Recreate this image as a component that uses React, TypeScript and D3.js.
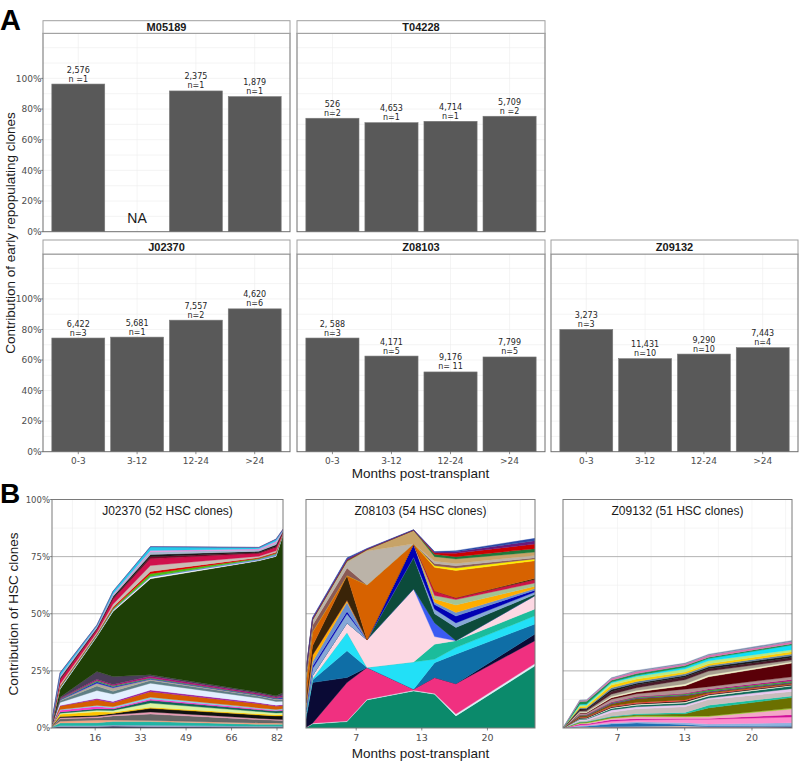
import React from "react";
import * as d3 from "d3";

// ---------------- Panel A data ----------------
const intervals = ["0-3", "3-12", "12-24", ">24"];
const yTicksA = [0, 0.2, 0.4, 0.6, 0.8, 1.0];
const yTickLabelsA = ["0%", "20%", "40%", "60%", "80%", "100%"];

const m05189Share = [0.963, null, 0.918, 0.881];
const m05189Count = ["2,576", "", "2,375", "1,879"];
const m05189N = ["n =1", "", "n=1", "n=1"];

const t04228Share = [0.74, 0.711, 0.72, 0.753];
const t04228Count = ["526", "4,653", "4,714", "5,709"];
const t04228N = ["n=2", "n=1", "n=1", "n =2"];

const j02370Share = [0.744, 0.75, 0.861, 0.935];
const j02370Count = ["6,422", "5,681", "7,557", "4,620"];
const j02370N = ["n=3", "n=1", "n=2", "n=6"];

const z08103Share = [0.744, 0.626, 0.522, 0.62];
const z08103Count = ["2, 588", "4,171", "9,176", "7,799"];
const z08103N = ["n=3", "n=5", "n= 11", "n=5"];

const z09132Share = [0.8, 0.609, 0.639, 0.681];
const z09132Count = ["3,273", "11,431", "9,290", "7,443"];
const z09132N = ["n=3", "n=10", "n=10", "n=4"];

// ---------------- Panel B data ----------------
const yTicksB = [0, 0.25, 0.5, 0.75, 1];
const yTickLabelsB = ["0%", "25%", "50%", "75%", "100%"];

// J02370 (days post-transplant)
const j02370Days = [25, 113, 519, 696, 1108, 2301, 2489, 2566];
const j02370TickDays = [500, 1000, 1500, 2000, 2500];
const j02370TickLabels = ["16", "33", "49", "66", "82"];
const j02370Colors = [
  "#0b0b3b", "#8fa3c8", "#1fb5a5", "#f4a582", "#666666", "#e89bb5", "#111111", "#ffc400",
  "#d8f5a2", "#0e6655", "#ff33cc", "#87ceeb", "#d55e00", "#9b1fa0", "#e3f0ff", "#5f7f86",
  "#b0a89a", "#2222cc", "#3aa046", "#b0107a", "#4b3d5a",
  "#1e3f06",
  "#ffffff", "#6a8fd8", "#4cbb17", "#dd0000", "#c9bcb5", "#d0104c", "#7a0a2a", "#1a1a1a",
  "#a9b8d0", "#f08ad8", "#25c9e8", "#5b2c83",
];
const j02370Layers = [
  [0.2, 0.5, 0.5, 0.8, 0.5, 0.3, 0.3, 0.3],
  [0.1, 0.5, 0.5, 0.5, 0.7, 0.5, 0.5, 0.5],
  [0.2, 1.2, 1.3, 1.5, 1.6, 0.8, 0.8, 0.8],
  [0.1, 0.8, 1.2, 0.7, 0.5, 0.6, 0.6, 0.5],
  [0.2, 1.0, 1.0, 1.8, 2.8, 1.5, 1.2, 1.2],
  [0.05, 0.5, 0.5, 0.5, 0.9, 0.5, 0.4, 0.4],
  [0.1, 0.5, 0.6, 0.6, 1.6, 1.5, 1.5, 1.6],
  [0.1, 1.0, 1.5, 0.5, 0.5, 0.5, 0.5, 0.6],
  [0.05, 0.5, 0.7, 0.8, 1.8, 1.0, 0.8, 0.8],
  [0.05, 0.5, 0.6, 0.6, 1.2, 0.8, 0.8, 1.0],
  [0.05, 0.8, 1.0, 0.5, 0.6, 0.4, 0.3, 0.3],
  [0.05, 0.3, 0.5, 0.5, 0.8, 0.4, 0.4, 0.4],
  [0.1, 1.5, 2.5, 1.8, 2.4, 1.8, 1.4, 1.3],
  [0.05, 0.3, 0.5, 0.5, 0.7, 0.5, 0.5, 0.5],
  [0.1, 1.3, 3.5, 3.3, 3.0, 2.0, 1.6, 1.5],
  [0.05, 0.7, 2.0, 1.2, 1.2, 0.8, 0.8, 0.8],
  [0.05, 0.3, 1.2, 1.5, 0.5, 0.3, 0.3, 0.3],
  [0.05, 0.3, 0.6, 0.4, 0.3, 0.2, 0.2, 0.5],
  [0.05, 0.2, 0.6, 0.5, 0.3, 0.2, 0.2, 0.3],
  [0.05, 0.3, 0.5, 0.5, 0.8, 0.5, 0.5, 0.6],
  [0.1, 0.5, 3.4, 3.5, 0.6, 0.6, 0.5, 1.2],
  [0.5, 3.5, 15.3, 28.5, 42, 57.5, 61, 69.2],
  [0.05, 0.3, 0.3, 0.4, 0.6, 0.2, 0.2, 0.1],
  [0.05, 0.4, 0.4, 0.5, 0.4, 0.6, 0.8, 0.3],
  [0.05, 0.3, 0.3, 0.5, 1.2, 0.3, 0.4, 0.1],
  [0.05, 0.4, 0.3, 0.6, 1.0, 0.3, 0.4, 0.1],
  [0.1, 0.8, 0.6, 1.2, 2.6, 0.6, 0.7, 0.2],
  [0.2, 1.8, 1.2, 2.0, 3.0, 1.2, 1.4, 0.4],
  [0.05, 0.4, 0.3, 0.6, 0.8, 0.3, 0.4, 0.1],
  [0.05, 0.5, 0.4, 0.8, 1.0, 0.6, 0.8, 0.3],
  [0.1, 0.6, 0.4, 0.6, 1.2, 0.6, 0.9, 0.2],
  [0.05, 0.3, 0.2, 0.4, 0.6, 0.5, 0.6, 0.2],
  [0.2, 1.2, 0.6, 1.2, 1.6, 0.6, 0.9, 0.2],
  [0.05, 0.2, 0.1, 0.1, 0.1, 0.1, 0.1, 0.3],
];

// Z08103
const z08103Days = [47, 67, 172, 233, 375, 439, 504, 745];
const z08103TickDays = [200, 400, 600];
const z08103TickLabels = ["7", "13", "20"];
const z08103Colors = [
  "#0b8a6b", "#dcf0f7", "#f03080", "#0a0a35", "#0f6ea6", "#22e0f7", "#1bbc9b", "#fcd8e3",
  "#3b5bf2", "#0c4b3b", "#86a8d6", "#0000b4", "#6b8fcf", "#ffad00", "#a3c495", "#cc1446",
  "#3a2408", "#d76200", "#ffee00", "#8a5a55", "#bbb3a8", "#c7a368", "#1e7a3a", "#cc0000",
  "#6a1a7a", "#2a4aa8",
];
const z08103Layers = [
  [0.2, 1.8, 2.8, 12.3, 16.2, 14.8, 5.3, 27.2],
  [0.1, 0.3, 0.3, 0.3, 0.3, 0.3, 0.8, 1.0],
  [0, 0, 16.8, 13.9, 0.5, 7.0, 13.3, 10.0],
  [3.7, 17.8, 2.2, 0, 0, 0, 0, 2.9],
  [1, 1.1, 11.7, 0, 0, 6.5, 12.9, 4.4],
  [1, 0.5, 8, 0, 11.9, 1.5, 2.9, 3.6],
  [0, 0, 0, 0, 0, 6.6, 3.0, 3.0],
  [1, 1.5, 4.2, 12.1, 31.9, 3.3, 0, 5.8],
  [0, 0, 0, 0, 0, 6, 0, 0],
  [0, 0, 0, 0, 13.9, 4, 5.8, 0.6],
  [1, 3, 4, 0, 0, 2, 2, 1],
  [0.5, 1, 1, 0, 5.9, 2, 3, 0.8],
  [0.5, 2, 4, 0, 0, 1, 1.5, 0.7],
  [2, 3, 1, 0, 0, 1.5, 3.3, 1],
  [0, 0, 0, 0, 0, 1.5, 2.4, 1.5],
  [0, 0, 0, 0, 0, 2, 0.8, 1.5],
  [2, 4, 10.7, 0, 0, 0, 0, 0.5],
  [7, 6, 0, 24, 0, 10.3, 11.9, 7.7],
  [0, 0, 0, 0, 0, 0.7, 1.1, 0.8],
  [2, 3, 3.3, 0, 0, 1, 1, 0.5],
  [2, 2, 2.5, 14.9, 0, 1, 1, 1],
  [0.3, 0.3, 0.5, 0.5, 5.9, 2, 2, 1.5],
  [0.2, 0.2, 0.3, 0.1, 0, 1, 1, 1.5],
  [0.1, 0.1, 0.2, 0.1, 0.1, 0.6, 1.5, 2],
  [0.2, 0.5, 0.5, 0.2, 0.1, 0.3, 0.6, 1.5],
  [0.2, 0.3, 0.5, 0.2, 0.1, 0.3, 0.5, 1],
];

// Z09132
const z09132Days = [38, 88, 108, 182, 257, 401, 471, 719];
const z09132TickDays = [200, 400, 600];
const z09132TickLabels = ["7", "13", "20"];
const z09132Colors = [
  "#1a1a6e", "#f5c6a5", "#1f6fb4", "#8fb3e0", "#ff8ccc", "#d0109a", "#f4a6c8", "#9acd32",
  "#6b7000", "#18c0a0", "#c8bcbc", "#e8c8f0", "#0e6a5a", "#f8f8e0", "#111111", "#ff4040",
  "#7a5a00", "#5a1a9a", "#33aa33", "#b01080", "#b09090", "#5a0008", "#f0f0c8", "#a8a090",
  "#4a1a2a", "#1a1a1a", "#5f7fa0", "#ffcc00", "#b8e986", "#10e0f8", "#1e8f4e", "#e070b0",
  "#8090b0",
];
const z09132Layers = [
  [0, 0.2, 0.2, 0.3, 0.3, 0.3, 0.3, 0.4],
  [0, 0.2, 0.2, 0.3, 0.4, 0.6, 0.3, 0.3],
  [0, 0.3, 0.4, 1.2, 1.5, 0.6, 0.3, 0.4],
  [0, 0.3, 0.3, 0.4, 0.5, 0.8, 0.8, 1.2],
  [0, 0.3, 0.3, 0.8, 0.8, 1.5, 2.1, 2.5],
  [0, 0.4, 0.4, 0.6, 0.6, 0.4, 0.4, 1.0],
  [0, 0.3, 0.3, 0.6, 0.8, 0.6, 0.8, 2.5],
  [0, 0.3, 0.3, 0.3, 0.5, 0.4, 0.3, 0.4],
  [0, 0.2, 0.2, 0.3, 0.4, 1.0, 3.5, 4.6],
  [0, 0.2, 0.2, 0.3, 0.4, 0.6, 1.2, 0.7],
  [0, 0.5, 0.5, 1.8, 2.2, 2.5, 2.5, 2.0],
  [0, 0.5, 0.5, 1.0, 0.9, 0.9, 0.6, 1.2],
  [0, 0.3, 0.3, 0.6, 0.7, 0.7, 0.8, 1.2],
  [0, 0.2, 0.2, 0.4, 0.4, 0.5, 0.5, 0.3],
  [0, 0.3, 0.3, 0.3, 0.3, 0.4, 0.4, 0.3],
  [0, 0.2, 0.2, 0.4, 0.5, 0.5, 0.4, 0.3],
  [0, 0.5, 0.5, 0.9, 1.6, 1.8, 0.5, 0.4],
  [0, 0.2, 0.2, 0.3, 0.3, 0.3, 0.3, 0.3],
  [0, 0.2, 0.2, 0.3, 0.4, 0.5, 0.6, 0.6],
  [0, 0.2, 0.2, 0.3, 0.3, 0.3, 0.5, 0.6],
  [0, 0.5, 0.5, 1.2, 1.2, 1.8, 1.0, 1.2],
  [0, 0.3, 0.3, 0.6, 0.8, 1.5, 4.3, 6.0],
  [0, 0.3, 0.3, 0.6, 0.6, 0.8, 0.8, 0.6],
  [0, 0.5, 0.5, 1.0, 1.2, 1.8, 1.7, 0.8],
  [0, 0.5, 0.5, 1.2, 1.3, 1.2, 1.0, 1.0],
  [0, 0.5, 0.5, 0.8, 0.7, 0.7, 0.8, 0.8],
  [0, 0.4, 0.4, 0.8, 0.8, 0.7, 0.6, 0.8],
  [0, 0.6, 0.6, 1.2, 1.0, 0.8, 0.8, 1.0],
  [0, 0.6, 0.6, 0.9, 1.1, 1.3, 1.3, 0.9],
  [0, 0.4, 0.4, 0.4, 0.5, 0.8, 1.0, 2.0],
  [0, 1.2, 1.2, 0.8, 0.8, 0.7, 0.6, 0.6],
  [0, 0.4, 0.4, 0.8, 0.9, 0.7, 0.8, 0.8],
  [0, 0.3, 0.3, 0.3, 0.5, 0.4, 0.5, 0.6],
];

// ---------------- Layout ----------------
const FONT_T = "'Liberation Sans', Arial, Helvetica, sans-serif";
const FONT_N = "'DejaVu Sans', Verdana, sans-serif";
const colX: [number, number][] = [[43, 290], [297, 545], [551, 798]];
const rowsA = [
  { stripTop: 20.7, top: 33.3, bottom: 231.7 },
  { stripTop: 240, top: 254, bottom: 451.7 },
];
const Y_MAX_A = 1.294;
const B_TOP = 499.5;
const B_BOTTOM = 728;

type BarProps = {
  col: number; row: number; title: string;
  values: (number | null)[]; counts: string[]; ns: string[];
  showX: boolean; showY: boolean;
};

function BarPanel({ col, row, title, values, counts, ns, showX, showY }: BarProps) {
  const [x0, x1] = colX[col];
  const { stripTop, top, bottom } = rowsA[row];
  const xs = d3.scaleBand<string>().domain(intervals).range([x0, x1]).paddingInner(0.1).paddingOuter(0.15);
  const ys = d3.scaleLinear().domain([0, Y_MAX_A]).range([bottom, top]);
  const grid = d3.range(1, 13).map((i) => i / 10);
  const bw = xs.bandwidth();
  return (
    <g>
      <rect x={x0} y={top} width={x1 - x0} height={bottom - top} fill="#ffffff" />
      {grid.map((v) => (
        <line key={"g" + v} x1={x0} x2={x1} y1={ys(v)} y2={ys(v)} stroke="#ececec" strokeWidth={0.6} />
      ))}
      {intervals.map((c) => (
        <line key={"v" + c} x1={(xs(c) as number) + bw / 2} x2={(xs(c) as number) + bw / 2} y1={top} y2={bottom} stroke="#ececec" strokeWidth={0.6} />
      ))}
      {values.map((v, i) => {
        const cx = (xs(intervals[i]) as number) + bw / 2;
        if (v == null) {
          return (
            <text key={"na" + i} x={cx} y={bottom - 9} textAnchor="middle" fontFamily={FONT_T} fontSize={14} fill="#1a1a1a">NA</text>
          );
        }
        return (
          <g key={"b" + i}>
            <rect x={xs(intervals[i])} y={ys(v)} width={bw} height={bottom - ys(v)} fill="#595959" stroke="#7a7a7a" strokeWidth={0.6} />
            <text x={cx} y={ys(v) - 11.5} textAnchor="middle" fontFamily={FONT_N} fontSize={8} fill="#262626">{counts[i]}</text>
            <text x={cx} y={ys(v) - 2.5} textAnchor="middle" fontFamily={FONT_N} fontSize={8} fill="#262626">{ns[i]}</text>
          </g>
        );
      })}
      <rect x={x0} y={top} width={x1 - x0} height={bottom - top} fill="none" stroke="#6e6e6e" strokeWidth={1} />
      <rect x={x0} y={stripTop} width={x1 - x0} height={top - stripTop} fill="#ffffff" stroke="#a0a0a0" strokeWidth={1} />
      <text x={(x0 + x1) / 2} y={(stripTop + top) / 2 + 4} textAnchor="middle" fontFamily={FONT_T} fontWeight="bold" fontSize={11} fill="#1a1a1a">{title}</text>
      {showY && yTicksA.map((t, i) => (
        <g key={"yt" + i}>
          <line x1={x0 - 2.5} x2={x0} y1={ys(t)} y2={ys(t)} stroke="#444" strokeWidth={0.6} />
          <text x={x0 - 1.5} y={ys(t) + 3.2} textAnchor="end" fontFamily={FONT_N} fontSize={9} fill="#4d4d4d">{yTickLabelsA[i]}</text>
        </g>
      ))}
      {showX && intervals.map((c) => (
        <g key={"xt" + c}>
          <line x1={(xs(c) as number) + bw / 2} x2={(xs(c) as number) + bw / 2} y1={bottom} y2={bottom + 2.5} stroke="#444" strokeWidth={0.6} />
          <text x={(xs(c) as number) + bw / 2} y={bottom + 12.5} textAnchor="middle" fontFamily={FONT_N} fontSize={9} fill="#4d4d4d">{c}</text>
        </g>
      ))}
    </g>
  );
}

type StackProps = {
  x0: number; x1: number; title: string; days: number[]; layers: number[][]; colors: string[];
  tickDays: number[]; tickLabels: string[]; showY: boolean; clipId: string;
};

function StackPanel({ x0, x1, title, days, layers, colors, tickDays, tickLabels, showY, clipId }: StackProps) {
  const xs = d3.scaleLinear().domain([days[0], days[days.length - 1]]).range([x0, x1]);
  const ys = d3.scaleLinear().domain([0, 1]).range([B_BOTTOM, B_TOP]);
  const keys = layers.map((_, k) => String(k));
  const table = days.map((_, i) => {
    const o: Record<string, number> = {};
    layers.forEach((l, k) => { o[String(k)] = l[i] / 100; });
    return o;
  });
  const series = d3.stack<Record<string, number>>().keys(keys)(table);
  const area = d3.area<any>()
    .x((_, i) => xs(days[i]))
    .y0((p) => ys(p[0]))
    .y1((p) => ys(p[1]));
  const major = [0.25, 0.5, 0.75];
  const minor = [0.125, 0.375, 0.625, 0.875];
  const step = tickDays[1] - tickDays[0];
  const vMinor = d3.range(tickDays[0] - step * 1.5, days[days.length - 1], step / 2).filter((d) => d > days[0]);
  return (
    <g>
      <defs>
        <clipPath id={clipId}>
          <rect x={x0} y={B_TOP} width={x1 - x0} height={B_BOTTOM - B_TOP} />
        </clipPath>
      </defs>
      <rect x={x0} y={B_TOP} width={x1 - x0} height={B_BOTTOM - B_TOP} fill="#ffffff" />
      {vMinor.map((d, i) => (
        <line key={"vm" + i} x1={xs(d)} x2={xs(d)} y1={B_TOP} y2={B_BOTTOM} stroke="#efefef" strokeWidth={0.6} />
      ))}
      {minor.map((v) => (
        <line key={"mi" + v} x1={x0} x2={x1} y1={ys(v)} y2={ys(v)} stroke="#efefef" strokeWidth={0.6} />
      ))}
      {major.map((v) => (
        <line key={"ma" + v} x1={x0} x2={x1} y1={ys(v)} y2={ys(v)} stroke="#b3b3b3" strokeWidth={1} />
      ))}
      <g clipPath={`url(#${clipId})`}>
        {series.map((s, k) => (
          <path key={"a" + k} d={area(s as any) || ""} fill={colors[k]} stroke={colors[k]} strokeWidth={0.35} strokeLinejoin="round" />
        ))}
      </g>
      <rect x={x0} y={B_TOP} width={x1 - x0} height={B_BOTTOM - B_TOP} fill="none" stroke="#7a7a7a" strokeWidth={1} />
      <text x={(x0 + x1) / 2} y={B_TOP + 15} textAnchor="middle" fontFamily={FONT_T} fontSize={12} fill="#1a1a1a">{title}</text>
      {tickDays.map((d, i) => (
        <g key={"xt" + i}>
          <line x1={xs(d)} x2={xs(d)} y1={B_BOTTOM} y2={B_BOTTOM + 2.5} stroke="#444" strokeWidth={0.6} />
          <text x={xs(d)} y={B_BOTTOM + 13} textAnchor="middle" fontFamily={FONT_N} fontSize={9.5} fill="#4d4d4d">{tickLabels[i]}</text>
        </g>
      ))}
      {showY && yTicksB.map((t, i) => (
        <g key={"yt" + i}>
          <line x1={x0 - 2.5} x2={x0} y1={ys(t)} y2={ys(t)} stroke="#444" strokeWidth={0.6} />
          <text x={x0 - 2} y={ys(t) + 3.2} textAnchor="end" fontFamily={FONT_N} fontSize={8.5} fill="#4d4d4d">{yTickLabelsB[i]}</text>
        </g>
      ))}
    </g>
  );
}

export default function App() {
  return (
    <svg width={800} height={763} viewBox="0 0 800 763" style={{ position: "absolute", left: 0, top: 0, display: "block", background: "#ffffff" }}>
      <rect x={0} y={0} width={800} height={763} fill="#ffffff" />
      {/* Panel A */}
      <text x={0} y={30} fontFamily={FONT_T} fontWeight="bold" fontSize={29} fill="#000">A</text>
      <BarPanel col={0} row={0} title="M05189" values={m05189Share} counts={m05189Count} ns={m05189N} showX={false} showY={true} />
      <BarPanel col={1} row={0} title="T04228" values={t04228Share} counts={t04228Count} ns={t04228N} showX={false} showY={false} />
      <BarPanel col={0} row={1} title="J02370" values={j02370Share} counts={j02370Count} ns={j02370N} showX={true} showY={true} />
      <BarPanel col={1} row={1} title="Z08103" values={z08103Share} counts={z08103Count} ns={z08103N} showX={true} showY={false} />
      <BarPanel col={2} row={1} title="Z09132" values={z09132Share} counts={z09132Count} ns={z09132N} showX={true} showY={false} />
      <text transform="translate(15,233) rotate(-90)" textAnchor="middle" fontFamily={FONT_T} fontSize={13.5} fill="#1a1a1a">Contribution of early repopulating clones</text>
      <text x={420.5} y={478} textAnchor="middle" fontFamily={FONT_T} fontSize={13.5} fill="#1a1a1a">Months post-transplant</text>

      {/* Panel B */}
      <text x={0} y={503} fontFamily={FONT_T} fontWeight="bold" fontSize={28} fill="#000">B</text>
      <StackPanel x0={52} x1={283} title="J02370 (52 HSC clones)" days={j02370Days} layers={j02370Layers} colors={j02370Colors}
        tickDays={j02370TickDays} tickLabels={j02370TickLabels} showY={true} clipId="clipJ" />
      <StackPanel x0={306} x1={535} title="Z08103 (54 HSC clones)" days={z08103Days} layers={z08103Layers} colors={z08103Colors}
        tickDays={z08103TickDays} tickLabels={z08103TickLabels} showY={false} clipId="clipZ8" />
      <StackPanel x0={563} x1={792} title="Z09132 (51 HSC clones)" days={z09132Days} layers={z09132Layers} colors={z09132Colors}
        tickDays={z09132TickDays} tickLabels={z09132TickLabels} showY={false} clipId="clipZ9" />
      <text transform="translate(18,614) rotate(-90)" textAnchor="middle" fontFamily={FONT_T} fontSize={13.5} fill="#1a1a1a">Contribution of HSC clones</text>
      <text x={420.5} y={758} textAnchor="middle" fontFamily={FONT_T} fontSize={13.5} fill="#1a1a1a">Months post-transplant</text>
    </svg>
  );
}
